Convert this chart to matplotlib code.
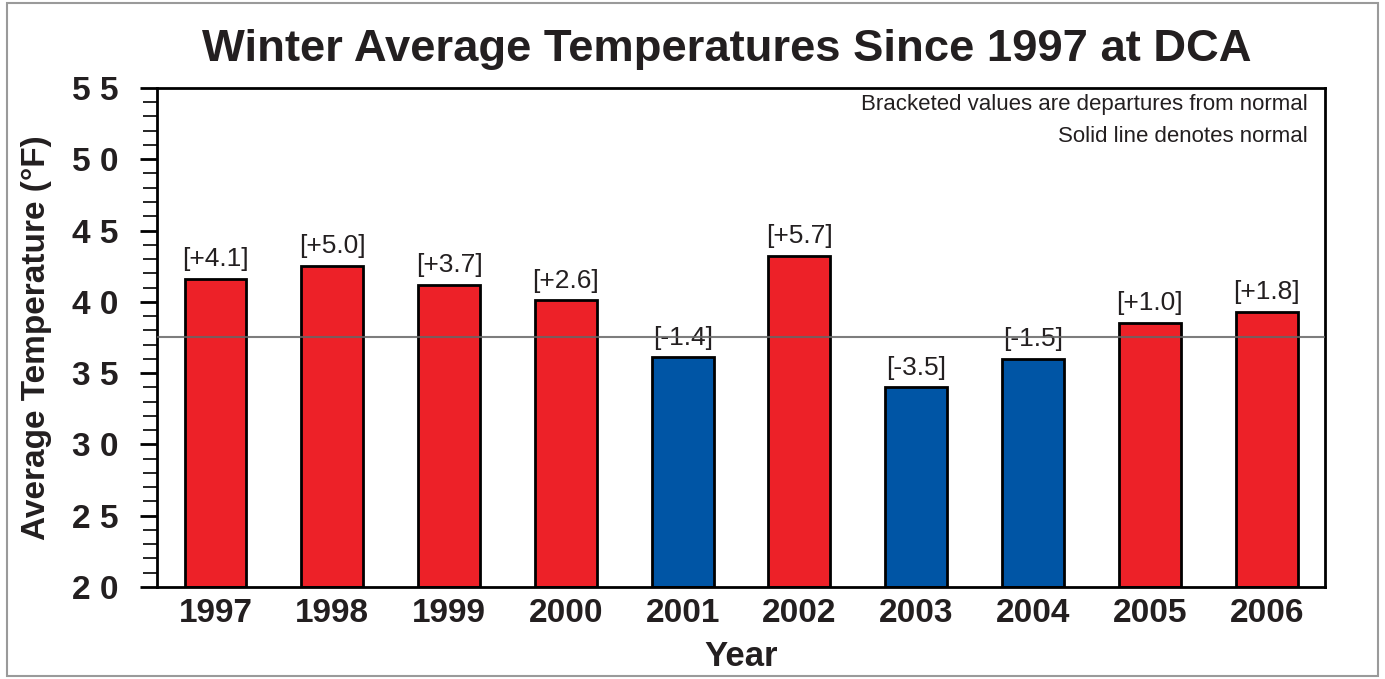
import matplotlib.pyplot as plt
from matplotlib.patches import Rectangle
from matplotlib.ticker import MultipleLocator, FuncFormatter

plt.rcParams['font.family'] = ['Liberation Sans', 'DejaVu Sans']

years = ['1997', '1998', '1999', '2000', '2001', '2002', '2003', '2004', '2005', '2006']
temps = [41.6, 42.5, 41.2, 40.1, 36.1, 43.2, 34.0, 36.0, 38.5, 39.3]
departures = ['[+4.1]', '[+5.0]', '[+3.7]', '[+2.6]', '[-1.4]', '[+5.7]', '[-3.5]', '[-1.5]', '[+1.0]', '[+1.8]']
normal = 37.5

red = '#ed2128'
blue = '#0055a5'
txt = '#231f20'

fig = plt.figure(figsize=(13.85, 6.79), dpi=100)
ax = fig.add_axes([0.1134, 0.1355, 0.8433, 0.735])

# grey frame round the whole picture
fig.patches.append(Rectangle((0.005, 0.004), 0.99, 0.992, transform=fig.transFigure,
                             fill=False, edgecolor='#9a9a9a', linewidth=1.5))

x = range(len(years))
colors = [red if t >= normal else blue for t in temps]
ax.bar(x, [t - 20 for t in temps], bottom=20, width=0.53, color=colors,
       edgecolor='black', linewidth=2, zorder=2)

for i, (t, d) in enumerate(zip(temps, departures)):
    ax.text(i, t + 0.55, d, ha='center', va='bottom', fontsize=19, color=txt)

ax.axhline(normal, color='#666666', linewidth=1.5, alpha=0.85, zorder=3)

ax.set_xlim(-0.5, 9.5)
ax.set_ylim(20, 55)
ax.yaxis.set_major_locator(MultipleLocator(5))
ax.yaxis.set_minor_locator(MultipleLocator(1))
# digits are spread apart on the original axis
ax.yaxis.set_major_formatter(FuncFormatter(lambda v, p: ' '.join(str(int(v)))))
ax.set_xticks(list(x))
ax.set_xticklabels(years, fontsize=24, fontweight='bold', color=txt)
ax.tick_params(axis='x', length=0, pad=8)
ax.tick_params(axis='y', which='major', length=12, width=2, labelsize=24, pad=16, labelcolor=txt)
ax.tick_params(axis='y', which='minor', length=10, width=1.2)
for lbl in ax.get_yticklabels():
    lbl.set_fontweight('bold')
for s in ax.spines.values():
    s.set_linewidth(2)

ax.set_ylabel('Average Temperature (°F)', fontsize=24, fontweight='bold', color=txt)
ax.yaxis.set_label_coords(-0.09, 0.5)
ax.set_xlabel('Year', fontsize=25, fontweight='bold', color=txt, labelpad=8)

ax.text(0.985, 0.966, 'Bracketed values are departures from normal', transform=ax.transAxes,
        ha='right', va='center', fontsize=16, color=txt)
ax.text(0.985, 0.902, 'Solid line denotes normal', transform=ax.transAxes,
        ha='right', va='center', fontsize=16, color=txt)

fig.text(0.525, 0.927, 'Winter Average Temperatures Since 1997 at DCA', ha='center', va='center',
         fontsize=32.7, fontweight='bold', color=txt)

fig.savefig('out.png', dpi=100)
